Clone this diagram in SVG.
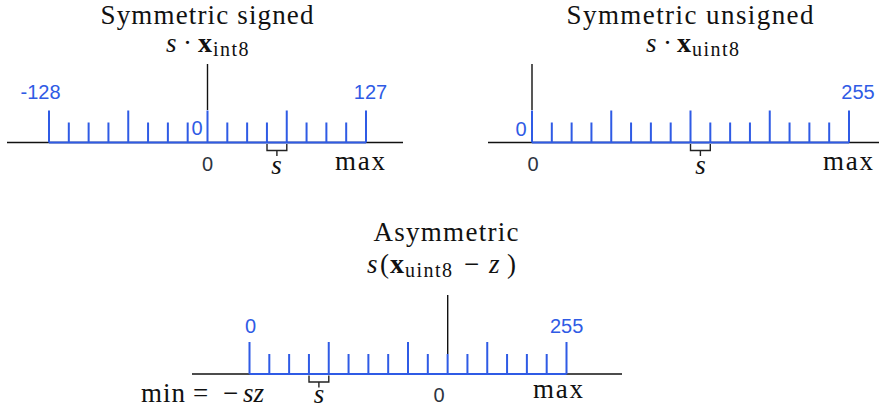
<svg xmlns="http://www.w3.org/2000/svg" width="879" height="409" viewBox="0 0 879 409">
<style>
.axis{stroke:#111;stroke-width:1.4;fill:none}
.tick{stroke:#2f5be5;stroke-width:2;fill:none}
.brace{stroke:#222;stroke-width:1.4;fill:none}
.title{font-family:"Liberation Serif",serif;font-size:27px;fill:#111;text-anchor:middle}
.math{font-family:"Liberation Serif",serif;font-size:27px;fill:#111}
.sub{font-size:20px;letter-spacing:1.5px}
.it{font-style:italic}
.bf{font-weight:bold;font-size:28px}
.blue{font-family:"Liberation Sans",sans-serif;font-size:20px;fill:#2f5be5;text-anchor:middle}
.gray{font-family:"Liberation Sans",sans-serif;font-size:20px;fill:#2d3440;text-anchor:middle}
</style>
<defs>
<path id="ruler" class="tick" d="M0 0H317 M0 0V-32 M19.81 0V-20 M39.63 0V-20 M59.44 0V-20 M79.25 0V-32 M99.06 0V-20 M118.88 0V-20 M138.69 0V-20 M158.5 0V-32 M178.31 0V-20 M198.13 0V-20 M217.94 0V-20 M237.75 0V-32 M257.56 0V-20 M277.38 0V-20 M297.19 0V-20 M317 0V-32"/>
<path id="br" class="brace" d="M0 1.5V8H19.8V1.5 M9.9 8V13.5"/>
</defs>

<g id="connectors">
<line class="axis" x1="7" y1="142.5" x2="403" y2="142.5"/>
<line class="axis" x1="207.5" y1="64" x2="207.5" y2="110"/>
<line class="axis" x1="488" y1="142.5" x2="879" y2="142.5"/>
<line class="axis" x1="532" y1="64" x2="532" y2="110"/>
<line class="axis" x1="192" y1="374" x2="622" y2="374"/>
<line class="axis" x1="447.7" y1="295" x2="447.7" y2="354"/>
</g>

<g id="signed">
<text class="title" x="207" y="24" textLength="213" lengthAdjust="spacing">Symmetric signed</text>
<text class="math" y="52"><tspan class="it" x="166">s</tspan><tspan x="183">·</tspan><tspan class="bf" x="198">x</tspan><tspan class="sub" x="213" dy="4">int8</tspan></text>
<use href="#ruler" x="49" y="142.5"/>
<text class="blue" x="40.5" y="99.3">-128</text>
<text class="blue" x="370.5" y="99.3">127</text>
<text class="blue" x="197" y="135">0</text>
<text class="gray" x="207.5" y="170.5">0</text>
<use href="#br" x="267" y="142.5"/>
<text class="math it" x="276.5" y="174" text-anchor="middle">s</text>
<text class="math" x="335" y="170" textLength="50" lengthAdjust="spacing">max</text>
</g>

<g id="unsigned">
<text class="title" x="690" y="24" textLength="247" lengthAdjust="spacing">Symmetric unsigned</text>
<text class="math" y="52"><tspan class="it" x="646">s</tspan><tspan x="663">·</tspan><tspan class="bf" x="677">x</tspan><tspan class="sub" x="692" dy="4">uint8</tspan></text>
<use href="#ruler" x="532" y="142.5"/>
<text class="blue" x="858" y="99.3">255</text>
<text class="blue" x="521" y="135.5">0</text>
<text class="gray" x="533" y="170.5">0</text>
<use href="#br" x="690.5" y="142.5"/>
<text class="math it" x="700.4" y="174" text-anchor="middle">s</text>
<text class="math" x="823" y="170" textLength="50" lengthAdjust="spacing">max</text>
</g>

<g id="asymmetric">
<text class="title" x="446" y="241" textLength="145" lengthAdjust="spacing">Asymmetric</text>
<text class="math" y="273"><tspan class="it" x="367">s</tspan><tspan x="380">(</tspan><tspan class="bf" x="390">x</tspan><tspan class="sub" x="405" dy="4">uint8</tspan><tspan x="464" dy="-4">−</tspan><tspan class="it" x="489">z</tspan><tspan x="507">)</tspan></text>
<use href="#ruler" x="249.5" y="374"/>
<text class="blue" x="250.5" y="333">0</text>
<text class="blue" x="566.7" y="333">255</text>
<text class="gray" x="439" y="401.5">0</text>
<use href="#br" x="309" y="374"/>
<text class="math it" x="319" y="403" text-anchor="middle" font-size="26">s</text>
<text class="math" y="402"><tspan x="141" textLength="44" lengthAdjust="spacing">min</tspan><tspan x="193">=</tspan><tspan x="223">−</tspan><tspan class="it" x="243">sz</tspan></text>
<text class="math" x="533" y="398" textLength="50" lengthAdjust="spacing">max</text>
</g>
</svg>
